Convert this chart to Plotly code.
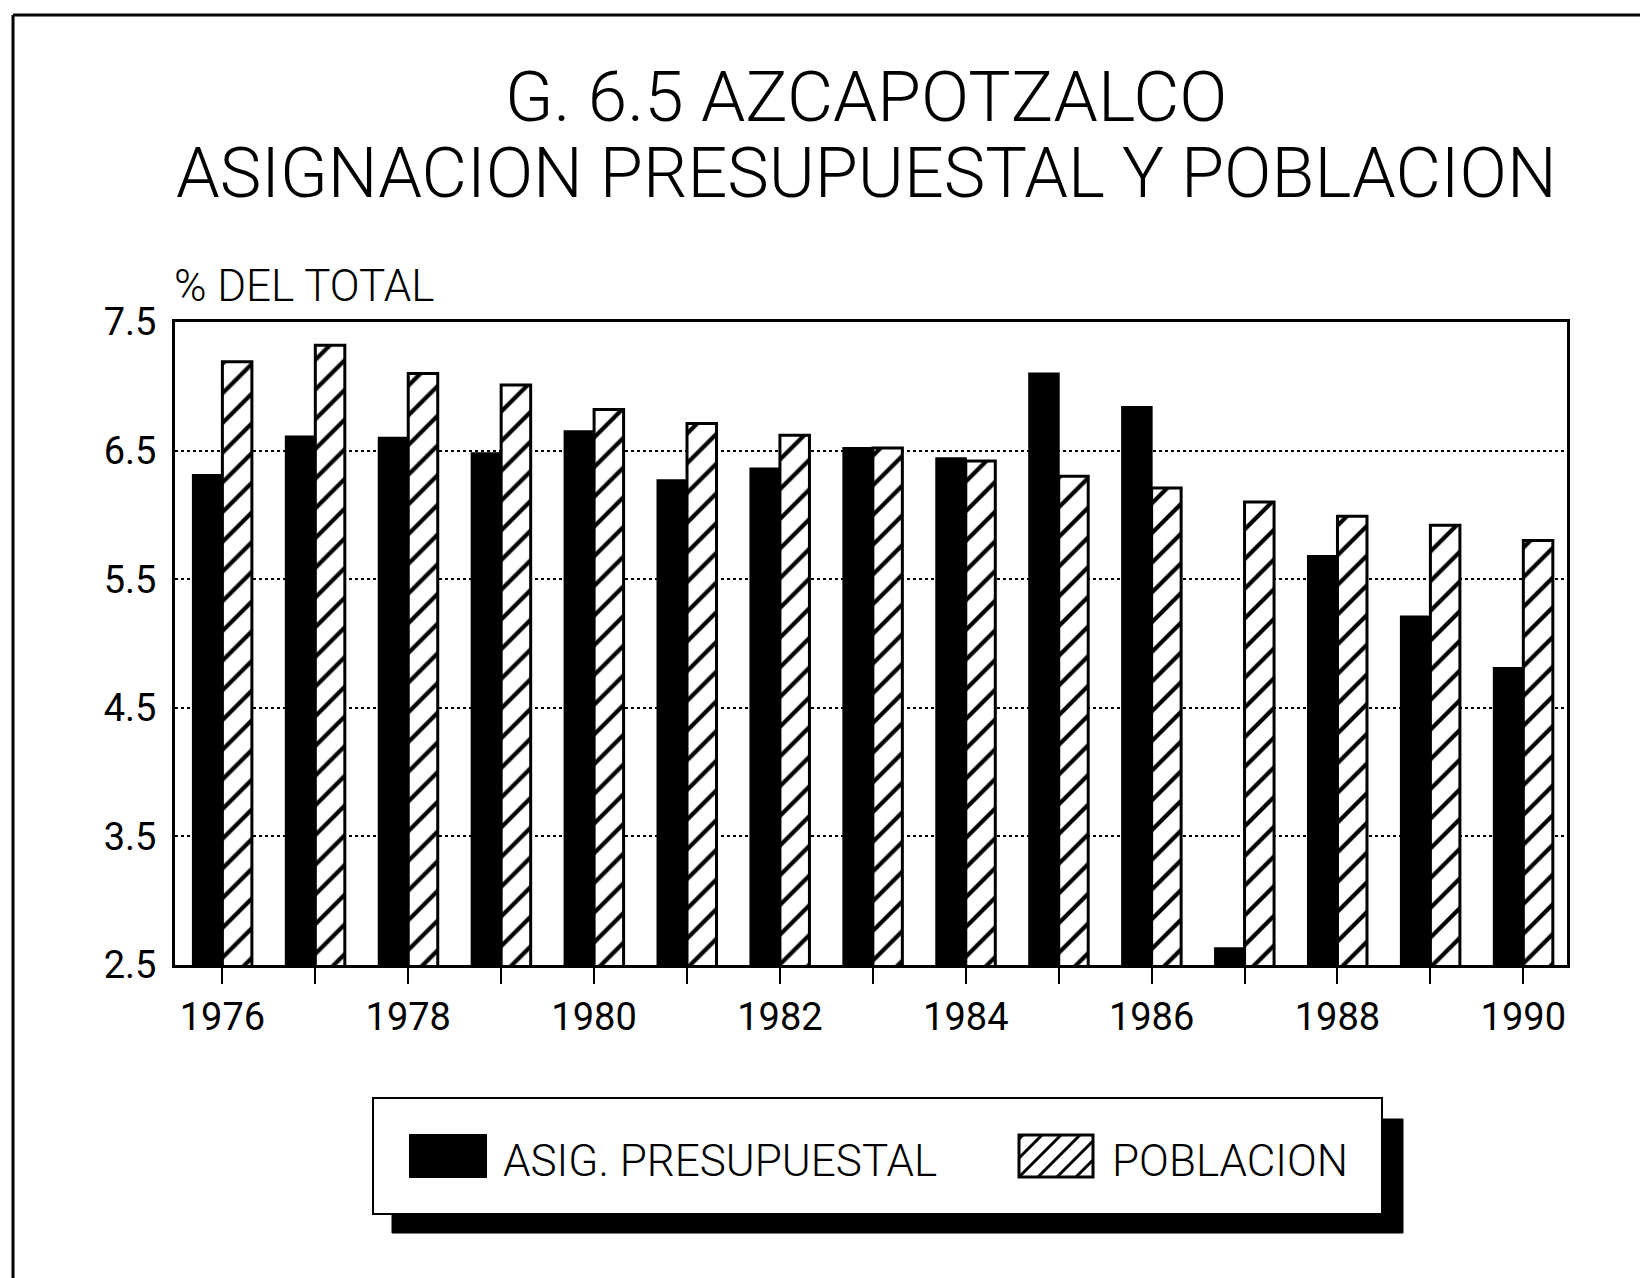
import plotly.graph_objects as go

years = [1976, 1977, 1978, 1979, 1980, 1981, 1982, 1983, 1984, 1985, 1986, 1987, 1988, 1989, 1990]
asig_presupuestal = [6.31, 6.61, 6.60, 6.48, 6.65, 6.27, 6.36, 6.52, 6.44, 7.10, 6.84, 2.63, 5.68, 5.21, 4.81]
poblacion = [7.19, 7.32, 7.10, 7.01, 6.82, 6.71, 6.62, 6.52, 6.42, 6.30, 6.21, 6.10, 5.99, 5.92, 5.80]
x_tick_labels = ["1976", "", "1978", "", "1980", "", "1982", "", "1984", "", "1986", "", "1988", "", "1990"]
y_tick_vals = [2.5, 3.5, 4.5, 5.5, 6.5, 7.5]
y_tick_labels = ["2.5", "3.5", "4.5", "5.5", "6.5", "7.5"]
series_names = ["ASIG. PRESUPUESTAL", "POBLACION"]

OFF = 8  # page body margin
W, H = 1648 - OFF, 1278 - OFF
PL, PR, PT, PB = 175, 1567, 322, 965  # plot area in page pixels
FONT = "Roboto, Liberation Sans, Arial, sans-serif"


def px(x):
    return (x - PL) / (PR - PL)


def py(y):
    return (PB - y) / (PB - PT)


fig = go.Figure()
fig.add_trace(go.Bar(
    x=years, y=asig_presupuestal, name=series_names[0], showlegend=False,
    marker=dict(color="black", line=dict(color="black", width=2)),
))
fig.add_trace(go.Bar(
    x=years, y=poblacion, name=series_names[1], showlegend=False,
    marker=dict(color="white", line=dict(color="black", width=3),
                pattern=dict(shape="/", fgcolor="#000000", bgcolor="white", fgopacity=1,
                             fillmode="replace", size=21, solidity=0.2)),
))

shapes = []
# outer frame (top and left edges visible)
shapes.append(dict(type="line", xref="paper", yref="paper", x0=px(13), x1=px(1660), y0=py(15), y1=py(15),
                   line=dict(color="black", width=3)))
shapes.append(dict(type="line", xref="paper", yref="paper", x0=px(13), x1=px(13), y0=py(15), y1=py(1290),
                   line=dict(color="black", width=3)))
# legend shadow and box
shapes.append(dict(type="rect", xref="paper", yref="paper", x0=px(392), x1=px(1403), y0=py(1119), y1=py(1233),
                   fillcolor="black", line=dict(color="black", width=1), layer="above"))
shapes.append(dict(type="rect", xref="paper", yref="paper", x0=px(373), x1=px(1382), y0=py(1098), y1=py(1214),
                   fillcolor="white", line=dict(color="black", width=2), layer="above"))
# legend swatch: solid
shapes.append(dict(type="rect", xref="paper", yref="paper", x0=px(410), x1=px(486), y0=py(1135), y1=py(1177),
                   fillcolor="black", line=dict(color="black", width=2), layer="above"))
# legend swatch: hatched
sx0, sx1, sy0, sy1 = 1019, 1093, 1135, 1177
shapes.append(dict(type="rect", xref="paper", yref="paper", x0=px(sx0), x1=px(sx1), y0=py(sy0), y1=py(sy1),
                   fillcolor="white", line=dict(color="black", width=3), layer="above"))
step = 19
h = sy1 - sy0
for k in range(-3, 8):
    base = sx0 + k * step
    xa, ya = base, sy1
    xb, yb = base + h, sy0
    if xa < sx0:
        ya = sy1 - (sx0 - xa)
        xa = sx0
    if xb > sx1:
        yb = sy0 + (xb - sx1)
        xb = sx1
    if xa >= sx1 or xb <= sx0 or ya <= yb:
        continue
    shapes.append(dict(type="line", xref="paper", yref="paper", x0=px(xa), x1=px(xb), y0=py(ya), y1=py(yb),
                       line=dict(color="black", width=3), layer="above"))

annotations = [
    dict(text="G. 6.5 AZCAPOTZALCO", xref="paper", yref="paper", x=px(866), y=py(97),
         xanchor="center", yanchor="middle", showarrow=False,
         font=dict(family=FONT, size=71, color="black", weight=300)),
    dict(text="ASIGNACION PRESUPUESTAL Y POBLACION", xref="paper", yref="paper", x=px(866), y=py(173),
         xanchor="center", yanchor="middle", showarrow=False,
         font=dict(family=FONT, size=70, color="black", weight=300)),
    dict(text="% DEL TOTAL", xref="paper", yref="paper", x=px(172), y=py(286),
         xanchor="left", yanchor="middle", showarrow=False,
         font=dict(family=FONT, size=44, color="black", weight=300)),
    dict(text=series_names[0], xref="paper", yref="paper", x=px(501), y=py(1161),
         xanchor="left", yanchor="middle", showarrow=False,
         font=dict(family=FONT, size=44, color="black", weight=300)),
    dict(text=series_names[1], xref="paper", yref="paper", x=px(1110), y=py(1161),
         xanchor="left", yanchor="middle", showarrow=False,
         font=dict(family=FONT, size=44, color="black", weight=300)),
]

fig.update_layout(
    width=W, height=H,
    margin=dict(l=PL - OFF, r=W - (PR - OFF), t=PT - OFF, b=H - (PB - OFF)),
    paper_bgcolor="white", plot_bgcolor="white",
    barmode="group", bargap=0.365, bargroupgap=0.0,
    shapes=shapes, annotations=annotations,
    font=dict(family=FONT, color="black"),
)
fig.update_xaxes(
    range=[1975.49, 1990.47], tickvals=years, ticktext=x_tick_labels,
    ticks="outside", ticklen=16, tickwidth=2, tickcolor="black",
    showline=True, linecolor="black", linewidth=3, mirror=True,
    showgrid=False, zeroline=False,
    tickfont=dict(family=FONT, size=38, color="black", weight=400),
)
fig.update_yaxes(
    range=[2.5, 7.5], tickvals=y_tick_vals, ticktext=y_tick_labels,
    ticks="", ticklabelstandoff=8,
    showline=True, linecolor="black", linewidth=3, mirror=True,
    showgrid=True, gridcolor="black", gridwidth=2, griddash="dot", zeroline=False,
    tickfont=dict(family=FONT, size=38, color="black", weight=400),
)

fig.write_html("out.html")
